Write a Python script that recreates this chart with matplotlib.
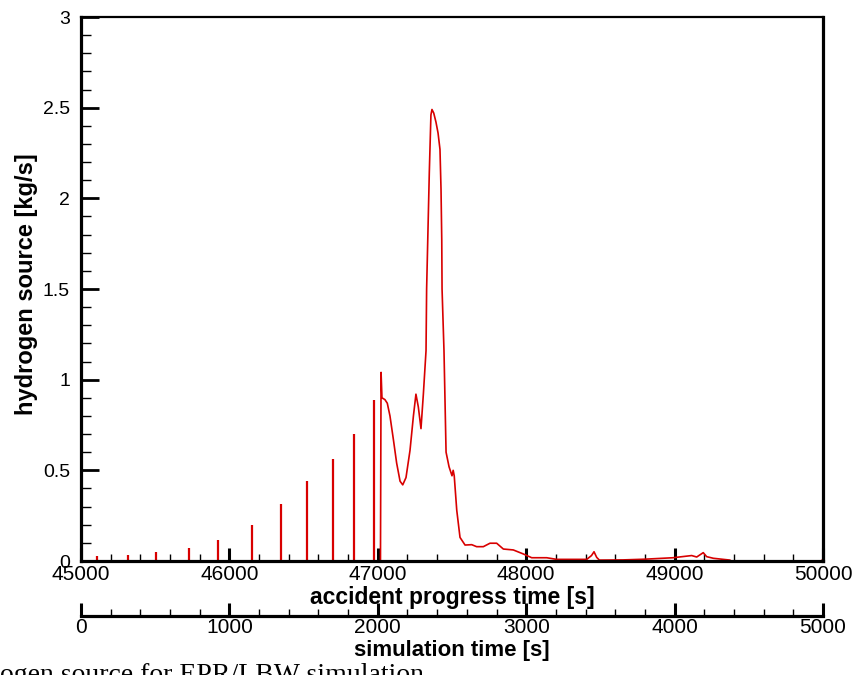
#!/usr/bin/env python3

import matplotlib as mpl
mpl.use('Agg')
import matplotlib.pyplot as plt
from matplotlib.ticker import MultipleLocator, FuncFormatter

#======================================================================

# accident progress time [s] / hydrogen source [kg/s]
spike_time = [45105, 45315, 45505, 45730, 45925, 46150, 46345, 46520,
              46700, 46840, 46975]
spike_height = [0.028, 0.035, 0.05, 0.072, 0.114, 0.20, 0.315, 0.44,
                0.56, 0.70, 0.89]

curve_time = [47018, 47022, 47028, 47048, 47064, 47082, 47105, 47127,
              47150, 47168, 47190, 47217, 47240, 47257, 47273, 47291,
              47307, 47325, 47329, 47347, 47358, 47365, 47377, 47392,
              47406, 47419, 47426, 47431, 47433, 47446, 47460, 47480,
              47500, 47508, 47515, 47532, 47554, 47588, 47633, 47666,
              47711, 47756, 47801, 47846, 47913, 47980, 48037, 48138,
              48205, 48408, 48440, 48457, 48475, 48493, 48652, 48800,
              48989, 49115, 49149, 49193, 49216, 49261, 49373, 49380,
              49990, 50000]
curve_value = [0.0, 1.04, 0.90, 0.89, 0.87, 0.80, 0.67, 0.54,
               0.44, 0.42, 0.46, 0.61, 0.80, 0.92, 0.85, 0.73,
               0.92, 1.16, 1.50, 2.14, 2.46, 2.49, 2.47, 2.42,
               2.36, 2.27, 2.05, 1.77, 1.50, 1.16, 0.60, 0.52,
               0.47, 0.50, 0.47, 0.28, 0.13, 0.088, 0.09, 0.079,
               0.079, 0.098, 0.098, 0.066, 0.061, 0.039, 0.018, 0.018,
               0.009, 0.009, 0.03, 0.051, 0.02, 0.005, 0.006, 0.01,
               0.018, 0.03, 0.022, 0.046, 0.024, 0.015, 0.005, 0.0,
               0.0, 0.012]

sim_offset = 45000  # simulation time = accident time - offset

#======================================================================

W, H = 866, 675
RED = '#d80000'
FONT = ['Liberation Sans', 'DejaVu Sans']

plt.rcParams['font.family'] = FONT

fig = plt.figure(figsize=(W/100, H/100), dpi=100)

def px_box(left, top, right, bottom):
    return [left/W, 1 - bottom/H, (right - left)/W, (bottom - top)/H]

def px_xy(x, y):
    return x/W, 1 - y/H

ax = fig.add_axes(px_box(81, 17, 823, 561))

ax.vlines(spike_time, 0, spike_height, color=RED, lw=1.6)
ax.plot(curve_time, curve_value, color=RED, lw=1.2)

ax.set_xlim(45000, 50000)
ax.set_ylim(0, 3)

ax.xaxis.set_major_locator(MultipleLocator(1000))
ax.xaxis.set_minor_locator(MultipleLocator(200))
ax.yaxis.set_major_locator(MultipleLocator(0.5))
ax.yaxis.set_minor_locator(MultipleLocator(0.1))
ax.yaxis.set_major_formatter(FuncFormatter(lambda v, p: f'{v:g}'))

ax.tick_params(axis='x', which='major', direction='in', length=9.5,
               width=2.2, labelsize=15, pad=3)
ax.tick_params(axis='x', which='minor', direction='in', length=5, width=1)
ax.tick_params(axis='y', which='major', direction='in', length=13,
               width=2, labelsize=14, pad=8)
ax.tick_params(axis='y', which='minor', direction='in', length=7, width=1)

for side in ['left', 'bottom', 'right']:
    ax.spines[side].set_linewidth(2.3)
ax.spines['top'].set_linewidth(1.6)

# second time axis below
ax2 = fig.add_axes(px_box(81, 615, 823, 616))
ax2.patch.set_visible(False)
for side in ['left', 'top', 'right']:
    ax2.spines[side].set_visible(False)
ax2.spines['bottom'].set_linewidth(2.3)
ax2.set_xlim(45000 - sim_offset, 50000 - sim_offset)
ax2.set_yticks([])
ax2.xaxis.set_major_locator(MultipleLocator(1000))
ax2.xaxis.set_minor_locator(MultipleLocator(200))
ax2.tick_params(axis='x', which='major', direction='in', length=9.5,
                width=2.2, labelsize=15, pad=1.5)
ax2.tick_params(axis='x', which='minor', direction='in', length=5, width=1)

# axis titles
fig.text(*px_xy(452, 604), 'accident progress time [s]', fontsize=16.5,
         fontweight='bold', ha='center', va='baseline')
fig.text(*px_xy(452, 656), 'simulation time [s]', fontsize=16,
         fontweight='bold', ha='center', va='baseline')
fig.text(*px_xy(27, 284), 'hydrogen source [kg/s]', fontsize=17,
         fontweight='bold', ha='center', va='center', rotation=90)

# caption clipped at the bottom of the page
fig.text(0, 1 - 682/H, 'ogen source for EPR/LBW simulation',
         family=['Liberation Serif', 'DejaVu Serif'], fontsize=20,
         va='baseline', ha='left')

fig.savefig('out.png', dpi=100)
plt.close()
